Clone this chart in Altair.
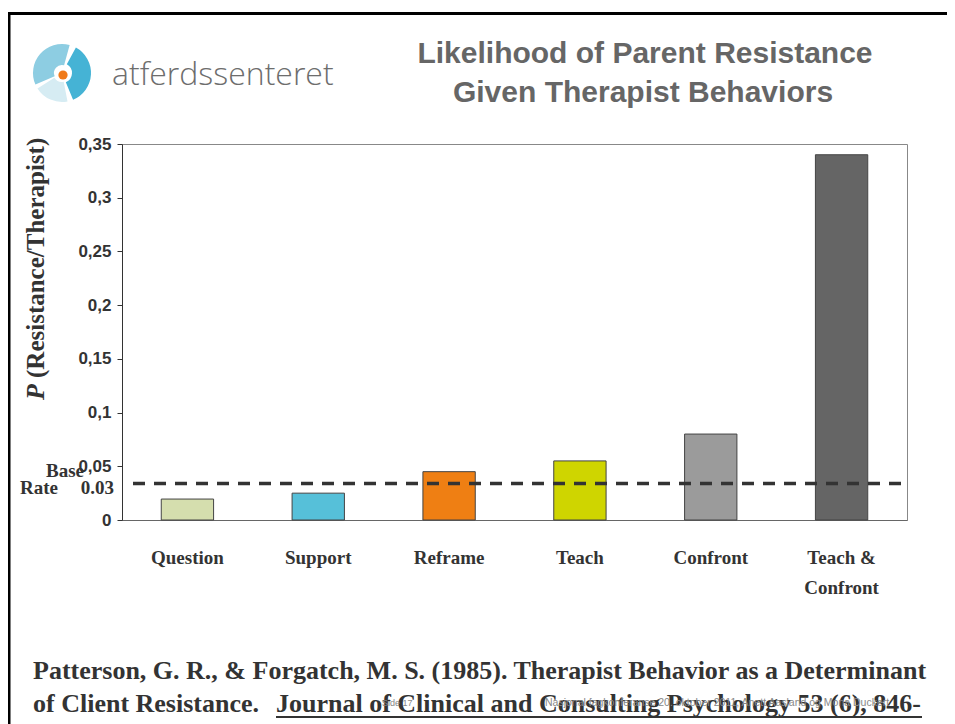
import altair as alt
import pandas as pd

# ---- data ----
categories = ["Question", "Support", "Reframe", "Teach", "Confront", "Teach & Confront"]
values = [0.0195, 0.025, 0.045, 0.055, 0.080, 0.340]
colors = ["#d5deae", "#56c0d9", "#ef7f13", "#cfd500", "#9b9b9b", "#656565"]
base_rate = 0.034
base_rate_label = "0.03"
y_ticks = [0, 0.05, 0.1, 0.15, 0.2, 0.25, 0.3, 0.35]

title_lines = ["Likelihood of Parent Resistance", "Given Therapist Behaviors"]
logo_text = "atferdssenteret"
y_title_p = "P"
y_title_rest = "(Resistance/Therapist)"
ref_line1 = "Patterson, G. R., & Forgatch, M. S. (1985). Therapist Behavior as a Determinant"
ref_line2a = "of Client Resistance."
ref_line2b = "Journal of Clinical and Consulting Psychology 53 (6), 846-"
footer_left = "Side 17"
footer_right = "Nasjonal fagkonferanse 20. oktober 2011, Anett Aasland og Mona Duckert"

df = pd.DataFrame({"cat": categories, "val": values})
one = pd.DataFrame({"k": [0]})

W, H = 785, 376
OX, OY = 122, 144  # page position of plot origin


def px(x):
    return x - OX


def py(y):
    return y - OY


bars = alt.Chart(df).mark_bar(stroke="#444444", strokeWidth=1).encode(
    x=alt.X(
        "cat:N",
        sort=categories,
        scale=alt.Scale(paddingInner=0.6, paddingOuter=0.3),
        axis=alt.Axis(
            title=None,
            labelAngle=0,
            ticks=False,
            domainColor="#666666",
            labelFont="Liberation Serif",
            labelFontWeight="bold",
            labelFontSize=19,
            labelColor="#333333",
            labelPadding=28,
            labelLineHeight=30,
            labelExpr="datum.value == 'Teach & Confront' ? ['Teach &', 'Confront'] : datum.label",
        ),
    ),
    y=alt.Y(
        "val:Q",
        scale=alt.Scale(domain=[0, 0.35], nice=False),
        axis=alt.Axis(
            title=None,
            values=y_ticks,
            grid=False,
            tickSize=5,
            tickColor="#333333",
            domainColor="#333333",
            labelFont="Liberation Sans",
            labelFontWeight="bold",
            labelFontSize=17,
            labelColor="#333333",
            labelPadding=6,
            labelExpr="replace(toString(datum.value), '.', ',')",
        ),
    ),
    color=alt.Color("cat:N", scale=alt.Scale(domain=categories, range=colors), legend=None),
)

base = alt.Chart(pd.DataFrame({"v": [base_rate]})).mark_rule(
    strokeDash=[12, 9], strokeWidth=3.5, color="#333333"
).encode(y="v:Q", x=alt.value(px(133)), x2=alt.value(px(902)))


def text(t, x, y, **kw):
    return alt.Chart(one).mark_text(text=t, **kw).encode(x=alt.value(x), y=alt.value(y))


serif_bold = dict(font="Liberation Serif", fontWeight="bold", color="#333333")

layers = [bars, base]

# base rate labels
layers.append(text("Base", px(46), py(477), align="left", baseline="alphabetic", fontSize=19, **serif_bold))
layers.append(text("Rate", px(20), py(494), align="left", baseline="alphabetic", fontSize=19, **serif_bold))
layers.append(text(base_rate_label, px(114), py(494), align="right", baseline="alphabetic", fontSize=19, **serif_bold))

# y title (rotated)
layers.append(text(y_title_p, px(36), py(392), align="center", baseline="middle", angle=270,
                   fontSize=26, fontStyle="italic", **serif_bold))
layers.append(text(y_title_rest, px(36), py(378), align="left", baseline="middle", angle=270,
                   fontSize=25, **serif_bold))

# title
layers.append(text(title_lines[0], px(645), py(63), align="center", baseline="alphabetic",
                   font="Liberation Sans", fontWeight="bold", fontSize=30, color="#666666"))
layers.append(text(title_lines[1], px(643), py(102), align="center", baseline="alphabetic",
                   font="Liberation Sans", fontWeight="bold", fontSize=30, color="#666666"))

# logo
layers.append(alt.Chart(one).mark_arc(radius=29, radius2=8, theta=4.3, theta2=6.55, color="#8dcde2")
              .encode(x=alt.value(px(62)), y=alt.value(py(73))))
layers.append(alt.Chart(one).mark_arc(radius=29, radius2=10, theta=0.5, theta2=2.75, color="#45b3d5")
              .encode(x=alt.value(px(62)), y=alt.value(py(73))))
layers.append(alt.Chart(one).mark_arc(radius=29, radius2=9, theta=2.95, theta2=4.15, color="#d6ecf3")
              .encode(x=alt.value(px(62)), y=alt.value(py(73))))
layers.append(alt.Chart(one).mark_circle(size=85, color="#f07a1a", opacity=1)
              .encode(x=alt.value(px(63)), y=alt.value(py(75))))
layers.append(text(logo_text, px(112), py(85), align="left", baseline="alphabetic",
                   font="Open Sans", fontWeight=300, fontSize=32, color="#6d6d6d"))

# slide frame
layers.append(alt.Chart(one).mark_rule(color="#000000", strokeWidth=3)
              .encode(x=alt.value(px(8)), x2=alt.value(px(955)), y=alt.value(py(13.5))))
layers.append(alt.Chart(one).mark_rule(color="#000000", strokeWidth=3)
              .encode(x=alt.value(px(9)), y=alt.value(py(12)), y2=alt.value(py(724))))

# reference
layers.append(text(ref_line1, px(33), py(679), align="left", baseline="alphabetic", fontSize=26, **serif_bold))
layers.append(text(ref_line2a, px(33), py(712), align="left", baseline="alphabetic", fontSize=26, **serif_bold))
layers.append(text(ref_line2b, px(276), py(712), align="left", baseline="alphabetic", fontSize=26, **serif_bold))
layers.append(alt.Chart(one).mark_rule(color="#333333", strokeWidth=2)
              .encode(x=alt.value(px(276)), x2=alt.value(px(922)), y=alt.value(py(717))))

# footer
layers.append(text(footer_left, px(382), py(706), align="left", baseline="alphabetic",
                   font="Liberation Sans", fontSize=9, color="#888888"))
layers.append(text(footer_right, px(545), py(706), align="left", baseline="alphabetic",
                   font="Liberation Sans", fontSize=10.5, color="#888888"))

chart = alt.layer(*layers).properties(
    width=W,
    height=H,
    padding={"left": 114, "top": 136, "right": 40, "bottom": 204},
    autosize=alt.AutoSizeParams(type="none"),
    background="white",
).configure_view(stroke="#888888", strokeWidth=1)

chart.save("out.html", embed_options={"renderer": "svg", "actions": False})
